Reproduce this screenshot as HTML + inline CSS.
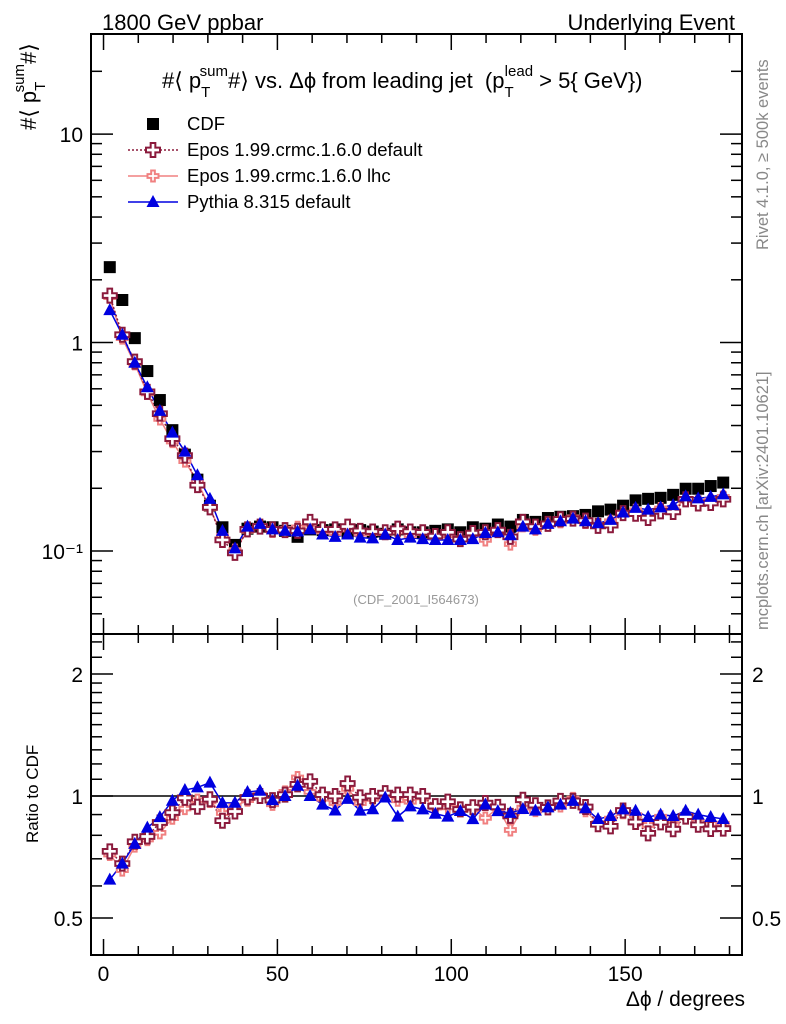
<!DOCTYPE html>
<html><head><meta charset="utf-8"><style>
html,body{margin:0;padding:0;background:#fff;}
svg{display:block;font-family:"Liberation Sans",sans-serif;}
</style></head><body>
<svg id="c" width="786" height="1024" viewBox="0 0 786 1024">
<text x="102" y="30" font-size="22">1800 GeV ppbar</text>
<text x="735" y="30" font-size="22" text-anchor="end">Underlying Event</text>
<text x="0" y="0" font-size="16.5" fill="#888" transform="translate(768,250) rotate(-90)">Rivet 4.1.0, ≥ 500k events</text>
<text x="0" y="0" font-size="16.5" fill="#888" transform="translate(768,630) rotate(-90)">mcplots.cern.ch [arXiv:2401.10621]</text>
<text x="416" y="604" font-size="13" fill="#999" text-anchor="middle">(CDF_2001_I564673)</text>
<g>
<text x="162" y="88" font-size="22" xml:space="preserve">#⟨ p<tspan font-size="15" dy="9">T</tspan><tspan font-size="15" dx="-9" dy="-21">sum</tspan><tspan dy="12">#⟩ vs. Δϕ from leading jet  (p</tspan><tspan font-size="15" dy="9">T</tspan><tspan font-size="15" dx="-9" dy="-21">lead</tspan><tspan dy="12"> &gt; 5{ GeV})</tspan></text>
</g>
<g transform="translate(36,130) rotate(-90)">
<text x="0" y="0" font-size="22">#⟨ p<tspan font-size="15" dy="9">T</tspan><tspan font-size="15" dx="-9" dy="-21">sum</tspan><tspan dy="12">#⟩</tspan></text>
</g>
<text x="0" y="0" font-size="17" transform="translate(38,843) rotate(-90)">Ratio to CDF</text>
<text x="745" y="1006" font-size="21" text-anchor="end">Δϕ / degrees</text>
<g id="legend"></g>
<g id="main"></g>
<g id="ratio"></g>
</svg>
<script>
const binCenters=[1.8,5.4,9,12.6,16.2,19.8,23.4,27,30.6,34.2,37.8,41.4,45,48.6,52.2,55.8,59.4,63,66.6,70.2,73.8,77.4,81,84.6,88.2,91.8,95.4,99,102.6,106.2,109.8,113.4,117,120.6,124.2,127.8,131.4,135,138.6,142.2,145.8,149.4,153,156.6,160.2,163.8,167.4,171,174.6,178.2];
const cdfValues=[2.30,1.60,1.05,0.73,0.53,0.38,0.29,0.22,0.165,0.130,0.107,0.128,0.131,0.130,0.125,0.117,0.127,0.126,0.127,0.122,0.126,0.124,0.121,0.127,0.123,0.123,0.125,0.127,0.123,0.130,0.128,0.134,0.131,0.141,0.138,0.144,0.146,0.147,0.149,0.155,0.158,0.165,0.175,0.178,0.180,0.186,0.199,0.199,0.205,0.213];
const eposDefaultValues=[1.68,1.09,0.81,0.58,0.456,0.346,0.287,0.207,0.162,0.113,0.098,0.127,0.131,0.127,0.126,0.125,0.138,0.127,0.127,0.131,0.125,0.124,0.123,0.128,0.124,0.123,0.118,0.123,0.114,0.122,0.123,0.126,0.117,0.138,0.131,0.135,0.142,0.143,0.140,0.132,0.133,0.152,0.151,0.144,0.155,0.154,0.177,0.169,0.170,0.177];
const eposLhcValues=[1.65,1.05,0.79,0.57,0.43,0.335,0.27,0.215,0.16,0.118,0.101,0.125,0.132,0.124,0.128,0.130,0.130,0.124,0.122,0.127,0.121,0.122,0.122,0.124,0.119,0.122,0.117,0.119,0.115,0.121,0.113,0.125,0.108,0.132,0.127,0.134,0.138,0.145,0.137,0.133,0.139,0.150,0.157,0.151,0.160,0.158,0.178,0.172,0.175,0.182];
const pythiaValues=[1.43,1.09,0.80,0.61,0.47,0.37,0.30,0.231,0.178,0.125,0.103,0.131,0.135,0.127,0.125,0.124,0.127,0.120,0.117,0.120,0.116,0.115,0.120,0.113,0.116,0.114,0.113,0.113,0.113,0.114,0.122,0.123,0.119,0.131,0.127,0.135,0.139,0.143,0.139,0.136,0.141,0.153,0.161,0.158,0.162,0.166,0.183,0.179,0.182,0.187];
const xTickLabels=["0","50","100","150"];
const mainTickLabels=["10","1","10⁻¹"];
const ratioTickLabels=["2","1","0.5"];

const NS="http://www.w3.org/2000/svg";
const L=91,R=742,MT=34,MB=634,RB=955;
const X0=-3.6,X1=183.6;
function sx(v){return L+(v-X0)/(X1-X0)*(R-L);}
const YL0=Math.log10(0.0400),YL1=Math.log10(30.2);
function sy(v){return MB-(Math.log10(v)-YL0)/(YL1-YL0)*(MB-MT);}
const RL0=-1.303,RL1=1.328;
function sr(v){return RB-(Math.log2(v)-RL0)/(RL1-RL0)*(RB-MB);}
function mk(tag,attrs,parent){const e=document.createElementNS(NS,tag);for(const k in attrs)e.setAttribute(k,attrs[k]);parent.appendChild(e);return e;}
const main=document.getElementById('main'),ratio=document.getElementById('ratio'),legend=document.getElementById('legend');

function frame(g,top,bot,yfun,majors,minors,labels,isMain){
  let f=mk('rect',{x:L,y:top,width:R-L,height:bot-top,fill:'none',stroke:'#000','stroke-width':2},g);
  
  
  for(let d=0;d<=180;d+=10){
    const x=sx(d),len=(d%50===0)?16:9;
    let t=mk('line',{x1:x,x2:x,y1:bot,y2:bot-len,stroke:'#000','stroke-width':1.5},g);
    
    
    let t2=mk('line',{x1:x,x2:x,y1:top,y2:top+len,stroke:'#000','stroke-width':1.5},g);
    
    
  }
  majors.forEach((v,i)=>{
    const y=yfun(v);
    for(const [a,b] of [[L,L+22],[R,R-22]]){
      let t=mk('line',{x1:a,x2:b,y1:y,y2:y,stroke:'#000','stroke-width':1.5},g);
      
      
    }
    if(isMain){
      let tx=mk('text',{x:L-8,y:y+8,'font-size':21,'text-anchor':'end'},g);
      tx.textContent=labels[i];
      
      
    } else {
      for(const [xx,anc] of [[L-8,'end'],[R+10,'start']]){
        let tx=mk('text',{x:xx,y:y+8,'font-size':21,'text-anchor':anc},g);
        tx.textContent=labels[i];
        
        
      }
    }
  });
  minors.forEach(v=>{
    const y=yfun(v); if(y<top+1||y>bot-1) return;
    for(const [a,b] of [[L,L+11],[R,R-11]]){
      let t=mk('line',{x1:a,x2:b,y1:y,y2:y,stroke:'#000','stroke-width':1.5},g);
      
      
    }
  });
}
let mainMinors=[];
[0.01,0.1,1,10].forEach(d=>{for(let k=2;k<=9;k++)mainMinors.push(d*k);});
frame(main,MT,MB,sy,[10,1,0.1],mainMinors,mainTickLabels,true);
let rMin=[0.4,0.6,0.7,0.8,0.9,1.1,1.2,1.3,1.4,1.5,1.6,1.7,1.8,1.9,2.2,2.4];
frame(ratio,MB,RB,sr,[2,1,0.5],rMin,ratioTickLabels,false);
xTickLabels.forEach((s,i)=>{
  let t=mk('text',{x:sx(i*50),y:981,'font-size':21,'text-anchor':'middle'},ratio);
  t.textContent=s;
  
  
});
let one=mk('line',{x1:L,x2:R,y1:sr(1),y2:sr(1),stroke:'#000','stroke-width':1.5},ratio);



function crossPath(x,y,s){const a=s/2,b=s/6;return `M${x-b},${y-a}h${2*b}v${a-b}h${a-b}v${2*b}h${-(a-b)}v${a-b}h${-2*b}v${-(a-b)}h${-(a-b)}v${-2*b}h${a-b}z`;}
function marker(g,type,x,y,name){
  let e;
  if(type==='sq') e=mk('rect',{x:x-6,y:y-6,width:12,height:12,fill:'#000'},g);
  else if(type==='cd') e=mk('path',{d:crossPath(x,y,14),fill:'#fff',stroke:'#8b1a3c','stroke-width':2},g);
  else if(type==='cl') e=mk('path',{d:crossPath(x,y,11),fill:'#fff',stroke:'#f08080','stroke-width':2},g);
  else e=mk('path',{d:`M${x},${y-7}L${x+6.5},${y+5}L${x-6.5},${y+5}z`,fill:'#0000e0'},g);
  
  
}
const series=[
 {vals:eposLhcValues,type:'cl',color:'#f08080',dash:'',name:'epos-lhc'},
 {vals:eposDefaultValues,type:'cd',color:'#8b1a3c',dash:'2,2',name:'epos-default'},
 {vals:pythiaValues,type:'tr',color:'#0000e0',dash:'',name:'pythia'}];
series.forEach(s=>{
  const pm=s.vals.map((v,i)=>sx(binCenters[i])+','+sy(v)).join(' ');
  let l=mk('polyline',{points:pm,fill:'none',stroke:s.color,'stroke-width':1.5,'stroke-dasharray':s.dash},main);
  
  
  const pr=s.vals.map((v,i)=>sx(binCenters[i])+','+sr(v/cdfValues[i])).join(' ');
  let l2=mk('polyline',{points:pr,fill:'none',stroke:s.color,'stroke-width':1.5,'stroke-dasharray':s.dash},ratio);
  
  
});
cdfValues.forEach((v,i)=>marker(main,'sq',sx(binCenters[i]),sy(v),'cdf-point'));
series.forEach(s=>{
  s.vals.forEach((v,i)=>{
    marker(main,s.type,sx(binCenters[i]),sy(v),s.name+'-point');
    marker(ratio,s.type,sx(binCenters[i]),sr(v/cdfValues[i]),s.name+'-ratio-point');
  });
});
const leg=[['sq','CDF','',''],['cd','Epos 1.99.crmc.1.6.0 default','#8b1a3c','2,2'],['cl','Epos 1.99.crmc.1.6.0 lhc','#f08080',''],['tr','Pythia 8.315 default','#0000e0','']];
leg.forEach((e,i)=>{
  const y=124+i*26;
  if(e[2]){
    let l=mk('line',{x1:128,x2:178,y1:y,y2:y,stroke:e[2],'stroke-width':1.5,'stroke-dasharray':e[3]},legend);
    
    
  }
  marker(legend,e[0],153,y,'legend-marker');
  let t=mk('text',{x:187,y:y+6,'font-size':18.5},legend);
  t.textContent=e[1];
  
  
});
</script>
</body></html>
